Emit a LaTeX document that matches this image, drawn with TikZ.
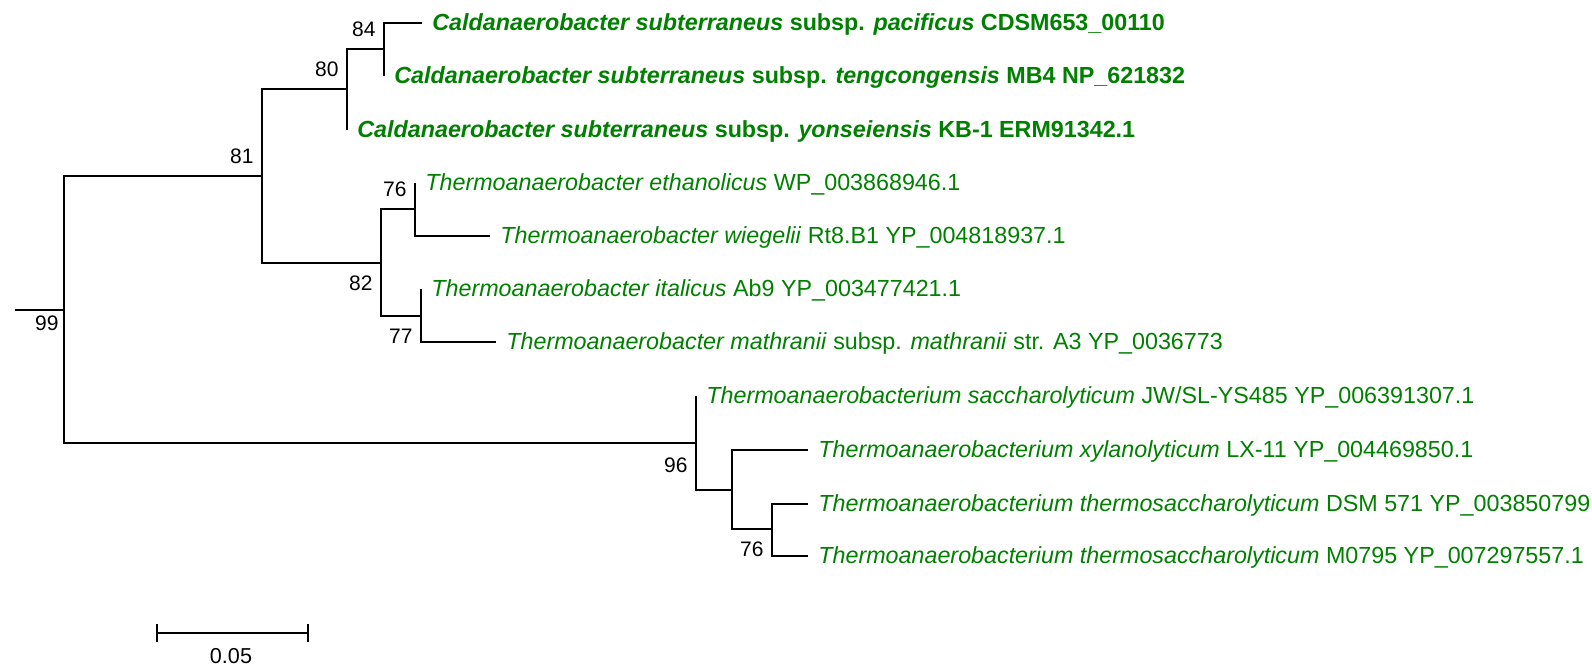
\documentclass[tikz,border=0pt]{standalone}
\usepackage{fontspec}
\setmainfont{Liberation Sans}
\usepackage{tikz}
\definecolor{leafgreen}{RGB}{0,128,0}
\newcommand{\spname}[1]{\textit{#1}}

\begin{document}
\begin{tikzpicture}[
			x=0.5pt, y=-0.5pt,
			branch/.style={draw=black, line width=1pt},
			leaf/.style={text=leafgreen, font=\fontsize{11.65}{13}\selectfont, anchor=base west, inner sep=0pt, xshift=5pt, yshift=-4pt},
			boldleaf/.style={leaf, font=\fontsize{11.65}{13}\selectfont\bfseries},
			boot/.style={font=\fontsize{10.5}{12}\selectfont, anchor=east, inner sep=0pt, xshift=-4pt},
			bootup/.style={boot, yshift=10pt},
			bootdown/.style={boot, yshift=-10pt},
			scalebar/.style={draw=black, line width=1pt}
			]
			\useasboundingbox (0,0) rectangle (1592,672);
			
			%% internal nodes
			\coordinate (stub) at (15,310);
			\coordinate (root) at (64,310);
			\coordinate (n81) at (262,176);
			\coordinate (n80) at (347,89);
			\coordinate (n84) at (384,49);
			\coordinate (n82) at (381,263);
			\coordinate (n76) at (415,209);
			\coordinate (n77) at (421,316);
			\coordinate (n96) at (696,443);
			\coordinate (nxyl) at (732,490);
			\coordinate (n76b) at (772,529);
			
			%% leaf tips
			\coordinate (pac) at (422,23);
			\coordinate (ten) at (384,76);
			\coordinate (yon) at (347,130);
			\coordinate (eth) at (415,183);
			\coordinate (wie) at (490,236);
			\coordinate (ita) at (421,289);
			\coordinate (mat) at (496,342);
			\coordinate (sac) at (696,396);
			\coordinate (xyl) at (808,450);
			\coordinate (dsm) at (808,504);
			\coordinate (mzero) at (808,556);
			
			%% Sketch
			\draw[branch] (stub) -- (root);
			\draw[branch] (root) |- (n81);
			\draw[branch] (root) |- (n96);
			\draw[branch] (n81) |- (n80);
			\draw[branch] (n81) |- (n82);
			\draw[branch] (n80) |- (n84);
			\draw[branch] (n80) |- (yon);
			\draw[branch] (n84) |- (pac);
			\draw[branch] (n84) |- (ten);
			\draw[branch] (n82) |- (n76);
			\draw[branch] (n82) |- (n77);
			\draw[branch] (n76) |- (eth);
			\draw[branch] (n76) |- (wie);
			\draw[branch] (n77) |- (ita);
			\draw[branch] (n77) |- (mat);
			\draw[branch] (n96) |- (sac);
			\draw[branch] (n96) |- (nxyl);
			\draw[branch] (nxyl) |- (xyl);
			\draw[branch] (nxyl) |- (n76b);
			\draw[branch] (n76b) |- (dsm);
			\draw[branch] (n76b) |- (mzero);
			
			% bootstrap values
			\node[boot, yshift=-6.75pt, xshift=1.5pt] (b99) at (root) {99};
			\node[bootup] (b81) at (n81) {81};
			\node[bootup] (b80) at (n80) {80};
			\node[bootup] (b84) at (n84) {84};
			\node[bootdown] (b82) at (n82) {82};
			\node[bootup] (b76) at (n76) {76};
			\node[bootdown] (b77) at (n77) {77};
			\node[bootdown, yshift=-1pt] (b96) at (n96) {96};
			\node[bootdown] (b76b) at (n76b) {76};
			
			% taxa
			\node[boldleaf] (tpac) at (pac) {\spname{Caldanaerobacter subterraneus} subsp. \spname{pacificus} CDSM653\_00110};
			\node[boldleaf] (tten) at (ten) {\spname{Caldanaerobacter subterraneus} subsp. \spname{tengcongensis} MB4 NP\_621832};
			\node[boldleaf] (tyon) at (yon) {\spname{Caldanaerobacter subterraneus} subsp. \spname{yonseiensis} KB-1 ERM91342.1};
			\node[leaf] (teth) at (eth) {\spname{Thermoanaerobacter ethanolicus} WP\_003868946.1};
			\node[leaf] (twie) at (wie) {\spname{Thermoanaerobacter wiegelii} Rt8.B1 YP\_004818937.1};
			\node[leaf] (tita) at (ita) {\spname{Thermoanaerobacter italicus} Ab9 YP\_003477421.1};
			\node[leaf] (tmat) at (mat) {\spname{Thermoanaerobacter mathranii} subsp. \spname{mathranii} str. A3 YP\_0036773};
			\node[leaf] (tsac) at (sac) {\spname{Thermoanaerobacterium saccharolyticum} JW/SL-YS485 YP\_006391307.1};
			\node[leaf] (txyl) at (xyl) {\spname{Thermoanaerobacterium xylanolyticum} LX-11 YP\_004469850.1};
			\node[leaf] (tdsm) at (dsm) {\spname{Thermoanaerobacterium thermosaccharolyticum} DSM 571 YP\_003850799};
			\node[leaf] (tmzero) at (mzero) {\spname{Thermoanaerobacterium thermosaccharolyticum} M0795 YP\_007297557.1};
			
			% scale bar
			\coordinate (sbl) at (157,633);
			\coordinate (sbr) at (308,633);
			\coordinate (sbmid) at (231,664);
			\draw[scalebar] (sbl) -- (sbr);
			\draw[scalebar] (sbl) ++(0,-9) -- ++(0,18);
			\draw[scalebar] (sbr) ++(0,-9) -- ++(0,18);
			\node[font=\fontsize{10.8}{12}\selectfont, anchor=base, inner sep=0pt] (sblabel) at (sbmid) {0.05};
			
\end{tikzpicture}
\end{document}
